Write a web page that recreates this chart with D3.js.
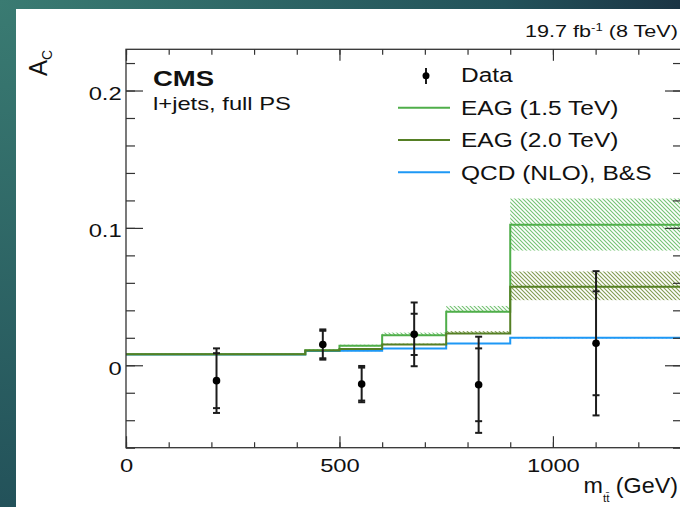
<!DOCTYPE html>
<html>
<head>
<meta charset="utf-8">
<script src="https://cdn.jsdelivr.net/npm/d3@7"></script>
<style>
  body { margin: 0; padding: 0; overflow: hidden; }
  svg { display: block; font-family: "Liberation Sans", Arial, sans-serif; }
</style>
</head>
<body>
<div id="chart"></div>
<script>
// bin edges of m_tt (GeV)
var binEdges = [0, 420, 500, 600, 750, 900, 1300];

// predictions per bin
var eag15   = [0.0080, 0.0110, 0.0142, 0.0218, 0.0390, 0.1023];
var eag15Lo = [0.0076, 0.0106, 0.0138, 0.0214, 0.0386, 0.0835];
var eag15Hi = [0.0085, 0.0116, 0.0150, 0.0238, 0.0432, 0.1214];
var eag20   = [0.0080, 0.0108, 0.0118, 0.0151, 0.0232, 0.0571];
var eag20Lo = [0.0077, 0.0105, 0.0115, 0.0148, 0.0229, 0.0474];
var eag20Hi = [0.0084, 0.0112, 0.0123, 0.0158, 0.0249, 0.0683];
var qcd     = [0.0079, 0.0103, 0.0105, 0.0122, 0.0159, 0.0200];
var qcdLo   = [0.0076, 0.0100, 0.0102, 0.0119, 0.0156, 0.0195];
var qcdHi   = [0.0082, 0.0106, 0.0108, 0.0125, 0.0162, 0.0205];

// measured points
var dataMass  = [212, 461, 552, 675, 826, 1101];
var dataAc    = [-0.0112, 0.0151, -0.0137, 0.0225, -0.0142, 0.0160];
var dataStat  = [0.0200, 0.0100, 0.0120, 0.0150, 0.0265, 0.0378];
var dataTotal = [0.0235, 0.0110, 0.0132, 0.0232, 0.0350, 0.0525];

var xMajor = [0, 500, 1000];
var yMajor = [0, 0.1, 0.2];

var colLight = "#4fae4a", colDark = "#557f24", colBlue = "#1e98f5";
var sx = 1.25; // the picture is stretched sideways

var W = 680, H = 507;
var svg = d3.select("#chart").append("svg").attr("width", W).attr("height", H);
var defs = svg.append("defs");

var grad = defs.append("radialGradient").attr("id", "bg")
    .attr("gradientUnits", "userSpaceOnUse")
    .attr("cx", 0).attr("cy", 0).attr("r", 700);
grad.append("stop").attr("offset", 0).attr("stop-color", "#3a7b72");
grad.append("stop").attr("offset", 0.72).attr("stop-color", "#23525a");
grad.append("stop").attr("offset", 1).attr("stop-color", "#1a3142");

function hatch(id, color) {
    var p = defs.append("pattern").attr("id", id)
        .attr("patternUnits", "userSpaceOnUse")
        .attr("width", 4).attr("height", 4);
    p.append("path")
        .attr("d", "M-1,-1L5,5M-1,3L1,5M3,-1L5,1")
        .attr("stroke", color).attr("stroke-width", 1.1).attr("opacity", 0.85);
}
hatch("h-light", "#5cb85a");
hatch("h-dark", "#6b8a33");
hatch("h-blue", "#4aaef7");

svg.append("rect").attr("width", W).attr("height", H).attr("fill", "url(#bg)");
svg.append("rect").attr("x", 16).attr("y", 9).attr("width", W - 16).attr("height", H - 9).attr("fill", "#fff");

var pLeft = 126, pRight = 681, pTop = 49.3, pBottom = 447.7;
var x = d3.scaleLinear().domain([0, 1300]).range([pLeft, pRight]);
var y = d3.scaleLinear().domain([-0.06, 0.23]).range([pBottom, pTop]);

var plot = svg.append("g");

// uncertainty bands
function bands(lo, hi, pat) {
    plot.append("g").selectAll("rect")
        .data(lo)
        .enter().append("rect")
        .attr("x", function (d, i) { return x(binEdges[i]); })
        .attr("width", function (d, i) { return x(binEdges[i + 1]) - x(binEdges[i]); })
        .attr("y", function (d, i) { return y(hi[i]); })
        .attr("height", function (d, i) { return y(lo[i]) - y(hi[i]); })
        .attr("fill", "url(#" + pat + ")");
}
bands(eag15Lo, eag15Hi, "h-light");
bands(eag20Lo, eag20Hi, "h-dark");
bands(qcdLo, qcdHi, "h-blue");

var step = d3.line()
    .x(function (d) { return x(d[0]); })
    .y(function (d) { return y(d[1]); })
    .curve(d3.curveStepAfter);

function stepLine(vals, color) {
    var pts = binEdges.map(function (e, i) { return [e, vals[Math.min(i, vals.length - 1)]]; });
    plot.append("path").attr("d", step(pts))
        .attr("fill", "none").attr("stroke", color).attr("stroke-width", 2);
}
stepLine(qcd, colBlue);
stepLine(eag15, colLight);
stepLine(eag20, colDark);

// data points with stat (inner) and total (outer) caps
var pts = plot.append("g").selectAll("g")
    .data(dataAc)
    .enter().append("g")
    .attr("transform", function (d, i) { return "translate(" + x(dataMass[i]) + ",0)"; });

pts.append("line")
    .attr("y1", function (d, i) { return y(d - dataTotal[i]); })
    .attr("y2", function (d, i) { return y(d + dataTotal[i]); })
    .attr("stroke", "#1c1c1c").attr("stroke-width", 2);

[dataTotal, dataStat].forEach(function (err) {
    [-1, 1].forEach(function (s) {
        pts.append("line")
            .attr("x1", -3.5).attr("x2", 3.5)
            .attr("y1", function (d, i) { return y(d + s * err[i]); })
            .attr("y2", function (d, i) { return y(d + s * err[i]); })
            .attr("stroke", "#1c1c1c").attr("stroke-width", 2);
    });
});

pts.append("circle")
    .attr("cy", function (d) { return y(d); })
    .attr("r", 3.8).attr("fill", "#000");

// axes: ticks inward on all four sides
function styleAxis(g) {
    g.select(".domain").remove();
    g.selectAll("line").attr("stroke", "#333").attr("stroke-width", 1.2);
}
var xMinor = d3.range(0, 1301, 100);
var yMinor = d3.range(-0.06, 0.2201, 0.02);

svg.append("g").attr("transform", "translate(0," + pBottom + ")")
    .call(d3.axisBottom(x).tickValues(xMinor).tickSize(-5.5).tickFormat(""))
    .call(styleAxis);
svg.append("g").attr("transform", "translate(0," + pTop + ")")
    .call(d3.axisTop(x).tickValues(xMinor).tickSize(-5.5).tickFormat(""))
    .call(styleAxis);
var xAx = svg.append("g").attr("transform", "translate(0," + pBottom + ")")
    .call(d3.axisBottom(x).tickValues(xMajor).tickSize(-11.5).tickPadding(10.5).tickFormat(d3.format("d")))
    .call(styleAxis);
svg.append("g").attr("transform", "translate(0," + pTop + ")")
    .call(d3.axisTop(x).tickValues(xMajor).tickSize(-11.5).tickFormat(""))
    .call(styleAxis);

svg.append("g").attr("transform", "translate(" + pLeft + ",0)")
    .call(d3.axisLeft(y).tickValues(yMinor).tickSize(-9).tickFormat(""))
    .call(styleAxis);
svg.append("g").attr("transform", "translate(" + pRight + ",0)")
    .call(d3.axisRight(y).tickValues(yMinor).tickSize(-8).tickFormat(""))
    .call(styleAxis);
var yAx = svg.append("g").attr("transform", "translate(" + pLeft + ",0)")
    .call(d3.axisLeft(y).tickValues(yMajor).tickSize(-17).tickPadding(3.5).tickFormat(function (d) { return d === 0 ? "0" : d3.format(".1f")(d); }))
    .call(styleAxis);
svg.append("g").attr("transform", "translate(" + pRight + ",0)")
    .call(d3.axisRight(y).tickValues(yMajor).tickSize(-16).tickFormat(""))
    .call(styleAxis);

xAx.selectAll("text").attr("font-size", 19).attr("fill", "#111")
    .attr("font-family", "Liberation Sans, Arial, sans-serif")
    .attr("transform", "scale(" + sx + ",1)");
yAx.selectAll("text").attr("font-size", 19).attr("fill", "#111").attr("dy", "0.47em")
    .attr("font-family", "Liberation Sans, Arial, sans-serif")
    .attr("transform", "scale(" + sx + ",1)");

svg.append("rect").attr("x", pLeft).attr("y", pTop)
    .attr("width", pRight - pLeft).attr("height", pBottom - pTop)
    .attr("fill", "none").attr("stroke", "#333").attr("stroke-width", 1.3);

// texts
function label(str, px, py, size, anchor, stretch) {
    return svg.append("text")
        .attr("transform", "translate(" + px + "," + py + ") scale(" + (stretch || sx) + ",1)")
        .attr("font-size", size).attr("text-anchor", anchor || "start")
        .attr("fill", "#111").text(str);
}

label("CMS", 153, 86, 22).attr("font-weight", "bold");
label("l+jets, full PS", 153, 110, 19);

var lumi = label("19.7 fb", 678, 36.7, 17.3, "end");
lumi.append("tspan").attr("baseline-shift", "super").attr("font-size", 10.5).text("-1");
lumi.append("tspan").text(" (8 TeV)");

var mt = label("m", 678, 492.5, 22, "end", 1.06);
mt.append("tspan").attr("font-size", 11).attr("dy", 9).text("t\u0074\u0304");
mt.append("tspan").attr("dy", -9).text(" (GeV)");

var ac = svg.append("text")
    .attr("transform", "translate(46.5,50) rotate(-90) scale(1,1.1)")
    .attr("text-anchor", "end").attr("font-size", 24).attr("fill", "#111")
    .text("A");
ac.append("tspan").attr("font-size", 14).attr("dy", 5).text("C");

// legend
var legNames = ["EAG (1.5 TeV)", "EAG (2.0 TeV)", "QCD (NLO), B&S"];
var legColors = [colLight, colDark, colBlue];
var leg = svg.append("g");
leg.append("line").attr("x1", 426).attr("x2", 426).attr("y1", 68).attr("y2", 84)
    .attr("stroke", "#1c1c1c").attr("stroke-width", 2);
leg.append("circle").attr("cx", 426).attr("cy", 75.7).attr("r", 3.5).attr("fill", "#000");
label("Data", 461, 82.3, 19.6);
legNames.forEach(function (n, i) {
    var ly = 107.7 + i * 32.3;
    leg.append("line").attr("x1", 398).attr("x2", 450).attr("y1", ly).attr("y2", ly)
        .attr("stroke", legColors[i]).attr("stroke-width", 2);
    label(n, 461, ly + 7.3, 19.6);
});
</script>
</body>
</html>
